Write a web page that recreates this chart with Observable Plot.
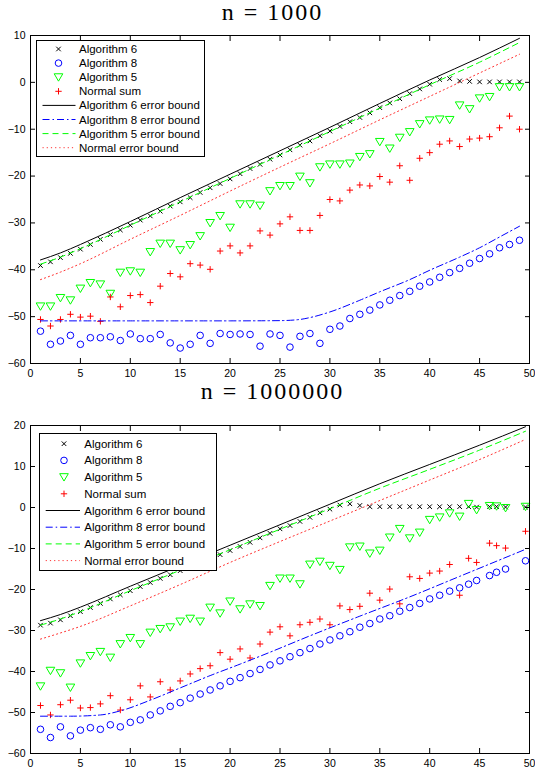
<!DOCTYPE html>
<html><head><meta charset="utf-8">
<script src="https://cdn.jsdelivr.net/npm/d3@7"></script>
<script src="https://cdn.jsdelivr.net/npm/@observablehq/plot@0.6"></script>
<style>
html,body{margin:0;padding:0;background:#fff;}
#root{position:relative;width:535px;height:776px;overflow:hidden;background:#fff;}
.title{position:absolute;left:0;width:545px;text-align:center;font-family:"Liberation Serif","Times New Roman",serif;font-size:24px;letter-spacing:2px;line-height:24px;color:#000;white-space:nowrap;}
.panel{position:absolute;left:0;}
.legend{position:absolute;}
</style></head><body><div id="root"></div>
<script>
// ---------- data ----------
const titles = ["n = 1000", "n = 1000000"];
const legendLabels = ["Algorithm 6", "Algorithm 8", "Algorithm 5", "Normal sum",
  "Algorithm 6 error bound", "Algorithm 8 error bound", "Algorithm 5 error bound", "Normal error bound"];
const xTicks = [0, 5, 10, 15, 20, 25, 30, 35, 40, 45, 50];
const yTicksTop = [-60, -50, -40, -30, -20, -10, 0, 10];
const yTicksBot = [-60, -50, -40, -30, -20, -10, 0, 10, 20];

// n = 1000
const xTop = [1,2,3,4,5,6,7,8,9,10,11,12,13,14,15,16,17,18,19,20,21,22,23,24,25,26,27,28,29,30,31,32,33,34,35,36,37,38,39,40,41,42,43,44,45,46,47,48,49];
const alg6Top = [-39.1,-38.3,-37.4,-36.5,-35.6,-34.6,-33.5,-32.5,-31.5,-30.5,-29.4,-28.5,-27.5,-26.4,-25.5,-24.6,-23.5,-22.5,-21.6,-20.6,-19.5,-18.4,-17.5,-16.4,-15.5,-14.4,-13.4,-12.5,-11.4,-10.4,-9.4,-8.4,-7.5,-6.5,-5.4,-4.4,-3.5,-2.4,-1.4,-0.4,0.6,0.8,0.3,0.2,0.1,0.1,0.1,0.1,0.1];
const alg8Top = [-53.1,-55.9,-55.2,-54.0,-55.9,-54.5,-54.5,-54.3,-55.1,-53.7,-54.7,-54.7,-53.8,-55.6,-56.7,-55.9,-54.0,-55.7,-53.6,-53.8,-53.7,-53.8,-56.3,-53.7,-54.0,-56.5,-54.2,-53.6,-55.7,-52.7,-52.0,-50.4,-49.5,-48.6,-47.5,-46.5,-45.5,-44.6,-43.5,-42.6,-41.6,-40.6,-39.7,-38.6,-37.6,-36.6,-35.3,-34.6,-33.7];
const alg5Top = [-47.8,-47.8,-46.0,-46.5,-44.0,-42.8,-43.1,-45.1,-40.6,-40.3,-40.6,-36.2,-34.4,-34.4,-35.8,-34.7,-32.8,-30.0,-28.5,-31.0,-26.0,-26.0,-26.3,-23.2,-22.1,-22.1,-20.1,-21.5,-18.1,-17.5,-17.5,-17.3,-15.9,-15.3,-12.7,-14.1,-11.8,-10.6,-8.9,-8.1,-7.9,-8.0,-4.9,-5.7,-3.4,-3.1,-1.0,-1.0,-1.0];
const normTop = [-50.6,-52.0,-50.6,-49.5,-50.1,-49.9,-51.0,-45.8,-47.9,-45.5,-45.3,-47.0,-43.5,-40.8,-41.5,-38.7,-39.0,-39.9,-36.0,-34.9,-36.4,-34.9,-31.7,-32.6,-30.2,-28.7,-31.6,-31.6,-28.4,-25.0,-25.3,-23.0,-21.9,-22.1,-20.1,-21.3,-17.8,-20.9,-16.2,-15.0,-13.2,-12.5,-13.7,-12.1,-11.9,-11.6,-9.7,-7.2,-10.0];
const boundXTop = [1,3,5,10,15,20,25,30,35,40,45,49];
const bound6Top = [-37.9,-36.4,-34.6,-29.7,-24.6,-19.6,-14.6,-9.6,-4.5,0.5,5.3,9.4];
const bound5Top = [-38.8,-37.3,-35.5,-30.5,-25.5,-20.5,-15.5,-10.5,-5.5,-0.5,4.3,8.5];
const boundNTop = [-42.1,-40.5,-38.7,-33.5,-28.4,-23.2,-18.1,-13.1,-8.0,-3.0,2.0,6.0];
const bound8XTop = [1,10,20,25,27,28,30,33,35,38,40,43,45,47,49];
const bound8Top = [-50.9,-50.9,-50.9,-50.85,-50.6,-50.2,-49.0,-46.5,-44.7,-42.1,-40.1,-37.3,-35.3,-33.0,-30.7];

// n = 1000000
const xBot = [1,2,3,4,5,6,7,8,9,10,11,12,13,14,15,16,17,18,19,20,21,22,23,24,25,26,27,28,29,30,31,32,33,34,35,36,37,38,39,40,41,42,43,43.9,44.7,46.0,46.7,47.6,49.6];
const alg6Bot = [-28.7,-28.2,-27.4,-26.4,-25.4,-24.4,-23.4,-22.3,-21.3,-20.3,-19.3,-18.3,-17.3,-16.4,-15.4,-14.4,-13.4,-12.5,-11.5,-10.5,-9.5,-8.5,-7.4,-6.3,-5.2,-4.4,-3.4,-2.4,-1.3,-0.4,0.6,0.9,0.5,0.2,0.2,0.2,0.2,0.2,0.2,0.2,0.2,0.2,0.2,0.2,0.1,0.2,0.2,0.1,0.1];
const alg8Bot = [-54.1,-56.1,-53.5,-55.7,-54.3,-53.7,-54.1,-53.0,-53.5,-52.4,-51.8,-50.6,-49.6,-48.5,-47.6,-46.5,-45.5,-44.5,-43.5,-42.4,-41.5,-40.5,-39.5,-38.4,-37.4,-36.4,-35.4,-34.4,-33.3,-32.3,-31.3,-30.3,-29.2,-28.3,-27.2,-26.4,-25.3,-24.4,-23.4,-22.3,-21.4,-20.4,-19.6,-18.7,-17.8,-16.6,-15.8,-15.0,-13.0];
const alg5Bot = [-43.6,-39.8,-40.4,-43.9,-38.0,-36.2,-35.2,-36.6,-33.3,-31.8,-33.3,-30.5,-29.6,-29.2,-27.8,-27.1,-27.8,-24.4,-25.8,-22.9,-24.8,-23.6,-24.0,-19.1,-17.3,-17.3,-18.7,-13.9,-13.2,-14.2,-15.2,-9.7,-9.5,-11.2,-10.5,-7.3,-5.2,-7.5,-6.1,-3.0,-2.4,-1.4,-2.2,0.9,-0.6,0.4,0.3,-0.1,0.2];
const normBot = [-48.3,-50.6,-48.1,-47.0,-48.9,-48.8,-47.9,-45.9,-49.4,-46.9,-43.5,-46.2,-42.5,-44.5,-42.3,-40.6,-39.3,-38.6,-35.4,-37.0,-34.5,-36.7,-33.3,-30.4,-29.1,-31.3,-28.6,-28.0,-27.2,-28.6,-24.0,-24.9,-24.1,-20.9,-22.6,-19.9,-23.5,-16.9,-17.3,-16.0,-15.5,-13.9,-21.4,-12.4,-13.4,-8.7,-9.3,-9.9,-5.8];
const boundXBot = [1,3,5,10,15,20,25,30,35,40,45,49.6];
const bound6Bot = [-27.6,-26.1,-24.3,-19.2,-14.2,-9.2,-4.2,0.8,5.8,10.5,15.2,19.7];
const bound5Bot = [-28.7,-27.2,-25.4,-20.3,-15.3,-10.3,-5.3,-0.3,4.7,9.3,14.0,18.6];
const boundNBot = [-32.1,-30.6,-29.0,-24.0,-18.8,-13.4,-8.3,-3.3,1.7,6.7,11.7,16.6];
const bound8XBot = [1,4,7,9,12,15,18,21,24,28,33,38,43,49.6];
const bound8Bot = [-50.9,-50.9,-50.6,-49.6,-47.0,-44.0,-41.0,-38.2,-35.3,-31.3,-26.5,-21.8,-16.8,-10.2];

// ---------- styles ----------
const BLACK = "#000000", BLUE = "#0000ff", GREEN = "#00ff00", RED = "#ff0000";
const triDown = {draw(ctx, size) {
  const r = Math.sqrt(size / Math.PI);
  ctx.moveTo(-1.2 * r, -0.95 * r); ctx.lineTo(1.2 * r, -0.95 * r); ctx.lineTo(0, 1.1 * r); ctx.closePath();
}};
const markStyles = [
  {symbol: "times", r: 2.2, stroke: BLACK, fill: "none"},
  {symbol: "circle", r: 3.3, stroke: BLUE, fill: "none"},
  {symbol: triDown, r: 3.6, stroke: GREEN, fill: "none"},
  {symbol: "plus", r: 2.2, stroke: RED, fill: "none"}
];
const lineStyles = [
  {stroke: BLACK, strokeDasharray: null, strokeOpacity: 1},
  {stroke: BLUE, strokeDasharray: "7,3,1.5,3", strokeOpacity: 1},
  {stroke: GREEN, strokeDasharray: "6,4", strokeOpacity: 1},
  {stroke: RED, strokeDasharray: "1.2,3", strokeOpacity: 0.8}
];

const root = document.getElementById("root");

function zip(xs, ys) { return xs.map((x, i) => ({x, y: ys[i]})); }

function panel(cfg) {
  const series = [cfg.a6, cfg.a8, cfg.a5, cfg.ns];
  const bounds = [[cfg.bx, cfg.b6], [cfg.b8x, cfg.b8], [cfg.bx, cfg.b5], [cfg.bx, cfg.bn]];
  const marks = [];
  series.forEach((ys, k) => {
    const s = markStyles[k];
    marks.push(Plot.dot(zip(cfg.xs, ys), {x: "x", y: "y", symbol: s.symbol, r: s.r, stroke: s.stroke, fill: s.fill, strokeWidth: 1}));
  });
  bounds.forEach(([bx, by], k) => {
    const s = lineStyles[k];
    marks.push(Plot.line(zip(bx, by), {x: "x", y: "y", stroke: s.stroke, strokeWidth: 1, strokeDasharray: s.strokeDasharray, strokeOpacity: s.strokeOpacity, curve: "monotone-x"}));
  });
  marks.push(
    Plot.frame({stroke: BLACK, strokeWidth: 1}),
    Plot.axisX({anchor: "bottom", ticks: xTicks, tickSize: -5, tickPadding: 11, label: null}),
    Plot.axisX({anchor: "top", ticks: xTicks, tickSize: -5, tickFormat: () => "", label: null}),
    Plot.axisY({anchor: "left", ticks: cfg.yTicks, tickSize: -5, tickPadding: 10, label: null}),
    Plot.axisY({anchor: "right", ticks: cfg.yTicks, tickSize: -5, tickFormat: () => "", label: null})
  );
  return Plot.plot({
    width: 535, height: cfg.height,
    marginTop: cfg.marginTop, marginBottom: cfg.marginBottom, marginLeft: 30, marginRight: 6,
    x: {domain: [0, 50]},
    y: {domain: cfg.yDomain},
    style: {fontFamily: "'Liberation Sans', Arial, sans-serif", fontSize: "10.5px", color: "#000", background: "transparent", overflow: "visible"},
    marks
  });
}

function addTitle(text, top) {
  const d = document.createElement("div");
  d.className = "title"; d.style.top = top + "px"; d.textContent = text;
  root.appendChild(d);
}

function addLegend(o) {
  const svg = d3.select(root).append("svg").attr("class", "legend")
    .style("left", o.left + "px").style("top", o.top + "px")
    .attr("width", o.width).attr("height", o.height);
  svg.append("rect").attr("x", 0.5).attr("y", 0.5).attr("width", o.width - 1).attr("height", o.height - 1)
    .attr("fill", "#fff").attr("stroke", "#000").attr("stroke-width", 1);
  legendLabels.forEach((label, i) => {
    const y = o.row0 + i * o.dy;
    if (i < 4) {
      const s = markStyles[i];
      const type = s.symbol === "times" ? d3.symbolTimes : s.symbol === "circle" ? d3.symbolCircle : s.symbol === "plus" ? d3.symbolPlus : s.symbol;
      svg.append("path").attr("transform", `translate(${o.mx},${y})`)
        .attr("d", d3.symbol(type, Math.PI * s.r * s.r)())
        .attr("fill", "none").attr("stroke", s.stroke).attr("stroke-width", 1);
    } else {
      const s = lineStyles[i - 4];
      svg.append("line").attr("x1", o.lx0).attr("x2", o.lx1).attr("y1", y).attr("y2", y)
        .attr("stroke", s.stroke).attr("stroke-width", 1).attr("stroke-opacity", s.strokeOpacity)
        .attr("stroke-dasharray", s.strokeDasharray);
    }
    svg.append("text").attr("x", o.tx).attr("y", y).attr("dy", "0.35em")
      .attr("font-family", "'Liberation Sans', Arial, sans-serif").attr("font-size", "11.5px")
      .attr("fill", "#000").text(label);
  });
}

// top panel
addTitle(titles[0], 0);
const p1 = panel({xs: xTop, a6: alg6Top, a8: alg8Top, a5: alg5Top, ns: normTop,
  bx: boundXTop, b6: bound6Top, b5: bound5Top, bn: boundNTop, b8x: bound8XTop, b8: bound8Top,
  yDomain: [-60, 10], yTicks: yTicksTop, height: 360, marginTop: 10, marginBottom: 22});
p1.classList.add("panel"); p1.style.top = "25px";
root.appendChild(p1);
addLegend({left: 36, top: 40, width: 169, height: 117, row0: 9, dy: 14.1, lx0: 6.5, lx1: 39.5, mx: 22.5, tx: 43});

// bottom panel
addTitle(titles[1], 379);
const p2 = panel({xs: xBot, a6: alg6Bot, a8: alg8Bot, a5: alg5Bot, ns: normBot,
  bx: boundXBot, b6: bound6Bot, b5: bound5Bot, bn: boundNBot, b8x: bound8XBot, b8: bound8Bot,
  yDomain: [-60, 20], yTicks: yTicksBot, height: 366, marginTop: 15, marginBottom: 23});
p2.classList.add("panel"); p2.style.top = "410px";
root.appendChild(p2);
addLegend({left: 39, top: 433, width: 178, height: 138, row0: 10.7, dy: 16.7, lx0: 6.7, lx1: 41, mx: 25, tx: 45.3});
</script></body></html>
